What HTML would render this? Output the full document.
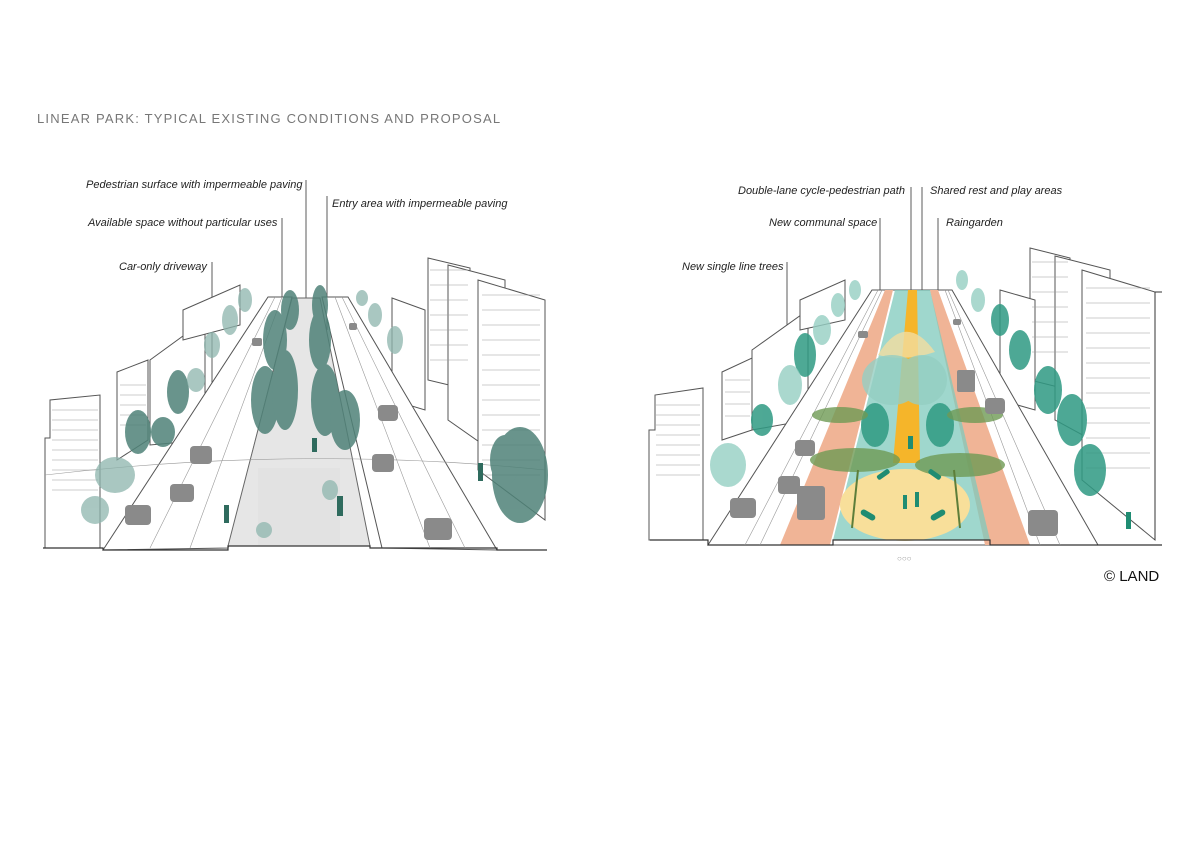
<!DOCTYPE html>
<html><head><meta charset="utf-8"><style>
html,body{margin:0;padding:0;background:#fff}
svg{display:block}
text{font-family:"Liberation Sans",sans-serif}
.lb{font-size:11px;font-style:italic;fill:#222}
.ln{stroke:#333;stroke-width:0.8;fill:none}
.bl{stroke:#555;stroke-width:1;fill:#fff}
.th{stroke:#999;stroke-width:0.6;fill:none}
</style></head><body>
<svg width="1200" height="848" viewBox="0 0 1200 848">
<text x="37" y="123" font-size="13" fill="#777" letter-spacing="1.2">LINEAR PARK: TYPICAL EXISTING CONDITIONS AND PROPOSAL</text>

<!-- ===== LEFT PANEL ===== -->
<!-- labels -->
<text class="lb" x="86" y="188">Pedestrian surface with impermeable paving</text>
<text class="lb" x="332" y="207">Entry area with impermeable paving</text>
<text class="lb" x="88" y="226">Available space without particular uses</text>
<text class="lb" x="119" y="270">Car-only driveway</text>
<path class="ln" d="M306 180V362 M327 196V330 M282 218V480 M212 262V395"/>
<!-- buildings left -->
<g class="bl">
<path d="M45 438H50V400L100 395V548H45Z"/>
<path d="M117 372L148 360V440L117 460Z"/>
<path d="M150 360L205 320V440L150 445Z"/>
<path d="M183 310L240 285V325L183 340Z"/>
</g>
<g class="th"><path d="M52 410H98M52 420H98M52 430H98M52 440H98M52 450H98M52 460H98M52 470H98M52 480H98M52 490H98M120 385H146M120 395H146M120 405H146M120 415H146M120 425H146"/></g>
<!-- buildings right -->
<g class="bl">
<path d="M428 258L470 268V390L428 380Z"/>
<path d="M448 265L505 280V460L448 420Z"/>
<path d="M478 280L545 300V520L478 470Z"/>
<path d="M392 298L425 310V410L392 400Z"/>
</g>
<g class="th"><path d="M430 270H468M430 285H468M430 300H468M430 315H468M430 330H468M430 345H468M430 360H468M482 295H540M482 310H540M482 325H540M482 340H540M482 355H540M482 370H540M482 385H540M482 400H540M482 415H540M482 430H540M482 445H540M482 460H540M482 475H540"/></g>
<!-- roads -->
<path d="M103 550L268 297H292L228 548Z" fill="#fff" stroke="#555"/>
<path d="M382 548L322 297H348L497 550Z" fill="#fff" stroke="#555"/>
<path d="M228 546L292 298H320L370 546Z" fill="#e6e6e6" stroke="#666"/>
<path d="M258 468H340V545H258Z" fill="#e0e0e0" opacity="0.7"/>
<path d="M43 548H103V550H228V546H370V548H497V550H547" stroke="#333" fill="none" stroke-width="1.2"/>
<g class="th"><path d="M150 548L275 297M190 548L282 297M430 548L335 297M465 548L342 297M45 475Q300 445 545 470"/></g>
<!-- trees -->
<g fill="#4f8278" opacity="0.85">
<ellipse cx="265" cy="400" rx="14" ry="34"/><ellipse cx="285" cy="390" rx="13" ry="40"/><ellipse cx="275" cy="340" rx="12" ry="30"/><ellipse cx="290" cy="310" rx="9" ry="20"/>
<ellipse cx="325" cy="400" rx="14" ry="36"/><ellipse cx="345" cy="420" rx="15" ry="30"/><ellipse cx="320" cy="340" rx="11" ry="30"/><ellipse cx="320" cy="305" rx="8" ry="20"/>
<ellipse cx="520" cy="475" rx="28" ry="48"/><ellipse cx="505" cy="460" rx="15" ry="25"/>
<ellipse cx="178" cy="392" rx="11" ry="22"/><ellipse cx="138" cy="432" rx="13" ry="22"/><ellipse cx="163" cy="432" rx="12" ry="15"/>
</g>
<g fill="#8db5ad" opacity="0.75">
<ellipse cx="115" cy="475" rx="20" ry="18"/><ellipse cx="95" cy="510" rx="14" ry="14"/><ellipse cx="196" cy="380" rx="9" ry="12"/><ellipse cx="212" cy="345" rx="8" ry="13"/><ellipse cx="230" cy="320" rx="8" ry="15"/><ellipse cx="245" cy="300" rx="7" ry="12"/>
<ellipse cx="395" cy="340" rx="8" ry="14"/><ellipse cx="375" cy="315" rx="7" ry="12"/><ellipse cx="362" cy="298" rx="6" ry="8"/>
<ellipse cx="330" cy="490" rx="8" ry="10"/><ellipse cx="264" cy="530" rx="8" ry="8"/>
</g>
<!-- cars -->
<g fill="#8a8a8a">
<rect x="190" y="446" width="22" height="18" rx="4"/><rect x="170" y="484" width="24" height="18" rx="4"/><rect x="125" y="505" width="26" height="20" rx="4"/>
<rect x="378" y="405" width="20" height="16" rx="4"/><rect x="372" y="454" width="22" height="18" rx="4"/><rect x="424" y="518" width="28" height="22" rx="4"/>
<rect x="252" y="338" width="10" height="8" rx="2"/><rect x="349" y="323" width="8" height="7" rx="2"/>
</g>
<g fill="#2f6b5e"><rect x="224" y="505" width="5" height="18"/><rect x="337" y="496" width="6" height="20"/><rect x="478" y="463" width="5" height="18"/><rect x="312" y="438" width="5" height="14"/></g>

<!-- ===== RIGHT PANEL ===== -->
<text class="lb" x="738" y="194">Double-lane cycle-pedestrian path</text>
<text class="lb" x="930" y="194">Shared rest and play areas</text>
<text class="lb" x="769" y="226">New communal space</text>
<text class="lb" x="946" y="226">Raingarden</text>
<text class="lb" x="682" y="270">New single line trees</text>
<path class="ln" d="M911 187V292 M922 187V350 M880 218V448 M938 218V380 M787 262V370"/>
<g class="bl">
<path d="M649 430H655V395L703 388V540H649Z"/>
<path d="M722 372L752 358V430L722 440Z"/>
<path d="M752 350L808 310V420L752 430Z"/>
<path d="M800 300L845 280V320L800 330Z"/>
</g>
<g class="th"><path d="M656 405H700M656 415H700M656 425H700M656 435H700M656 445H700M656 455H700M656 465H700M656 475H700M725 380H750M725 392H750M725 404H750M725 416H750"/></g>
<g class="bl">
<path d="M1030 248L1070 258V390L1030 380Z"/>
<path d="M1055 256L1110 270V450L1055 420Z"/>
<path d="M1082 270L1155 292V540L1082 480Z"/>
<path d="M1000 290L1035 300V410L1000 400Z"/>
</g>
<g class="th"><path d="M1032 262H1068M1032 277H1068M1032 292H1068M1032 307H1068M1032 322H1068M1032 337H1068M1032 352H1068M1086 288H1150M1086 303H1150M1086 318H1150M1086 333H1150M1086 348H1150M1086 363H1150M1086 378H1150M1086 393H1150M1086 408H1150M1086 423H1150M1086 438H1150M1086 453H1150M1086 468H1150"/></g>
<!-- roads -->
<path d="M708 545L872 290H952L1098 545Z" fill="#fff" stroke="#555"/>
<path d="M780 545L885 290H893L830 545Z" fill="#f0b496"/>
<path d="M985 545L930 290H938L1030 545Z" fill="#f0b496"/>
<path d="M833 540L895 290H930L990 540Z" fill="#7fc9bc" opacity="0.75"/>
<path d="M893 463L908 290H917L920 463Z" fill="#f5b52a"/>
<ellipse cx="905" cy="505" rx="65" ry="36" fill="#f8df9a"/>
<path d="M878 355Q905 310 935 352Q905 362 878 355Z" fill="#f3dda0" opacity="0.8"/>
<path d="M650 540H708V545H780V545H833V540H990V545H1098V545H1162" stroke="#333" fill="none" stroke-width="1.2"/>
<path d="M1162 292H1155" stroke="#333"/><path d="M1155 292V540" stroke="#333"/>
<g class="th"><path d="M745 545L878 290M760 545L882 290M1040 545L945 290M1060 545L948 290"/></g>
<!-- trees -->
<g fill="#2f9a83" opacity="0.85">
<ellipse cx="805" cy="355" rx="11" ry="22"/><ellipse cx="762" cy="420" rx="11" ry="16"/><ellipse cx="1048" cy="390" rx="14" ry="24"/><ellipse cx="1072" cy="420" rx="15" ry="26"/><ellipse cx="1090" cy="470" rx="16" ry="26"/><ellipse cx="1020" cy="350" rx="11" ry="20"/><ellipse cx="1000" cy="320" rx="9" ry="16"/>
<ellipse cx="875" cy="425" rx="14" ry="22"/><ellipse cx="940" cy="425" rx="14" ry="22"/>
</g>
<g fill="#95cfc3" opacity="0.8">
<ellipse cx="728" cy="465" rx="18" ry="22"/><ellipse cx="790" cy="385" rx="12" ry="20"/><ellipse cx="822" cy="330" rx="9" ry="15"/><ellipse cx="838" cy="305" rx="7" ry="12"/><ellipse cx="855" cy="290" rx="6" ry="10"/><ellipse cx="978" cy="300" rx="7" ry="12"/><ellipse cx="962" cy="280" rx="6" ry="10"/>
<ellipse cx="892" cy="380" rx="30" ry="25"/><ellipse cx="922" cy="380" rx="25" ry="25"/>
</g>
<g fill="#6f9a55" opacity="0.8">
<ellipse cx="855" cy="460" rx="45" ry="12"/><ellipse cx="960" cy="465" rx="45" ry="12"/><ellipse cx="840" cy="415" rx="28" ry="8"/><ellipse cx="975" cy="415" rx="28" ry="8"/>
</g>
<g stroke="#5d7e3a" stroke-width="2"><path d="M852 528L858 470M960 528L954 470"/></g>
<g fill="#1f8c72"><rect x="860" y="512" width="16" height="6" rx="3" transform="rotate(30 868 515)"/><rect x="930" y="512" width="16" height="6" rx="3" transform="rotate(-30 938 515)"/><rect x="876" y="472" width="14" height="5" rx="2" transform="rotate(-35 883 474)"/><rect x="928" y="472" width="14" height="5" rx="2" transform="rotate(35 935 474)"/>
<rect x="903" y="495" width="4" height="14"/><rect x="915" y="492" width="4" height="15"/><rect x="908" y="436" width="5" height="13"/><rect x="1126" y="512" width="5" height="17"/></g>
<!-- cars -->
<g fill="#8a8a8a">
<rect x="795" y="440" width="20" height="16" rx="4"/><rect x="778" y="476" width="22" height="18" rx="4"/><rect x="730" y="498" width="26" height="20" rx="4"/>
<rect x="797" y="486" width="28" height="34" rx="3"/><rect x="957" y="370" width="18" height="22" rx="2"/>
<rect x="985" y="398" width="20" height="16" rx="4"/><rect x="1028" y="510" width="30" height="26" rx="4"/><rect x="858" y="331" width="10" height="7" rx="2"/><rect x="953" y="319" width="8" height="6" rx="2"/>
</g>
<text x="897" y="561" font-size="8" fill="#999">○○○</text>
<text x="1104" y="581" font-size="15" fill="#111">© LAND</text>
</svg>
</body></html>
